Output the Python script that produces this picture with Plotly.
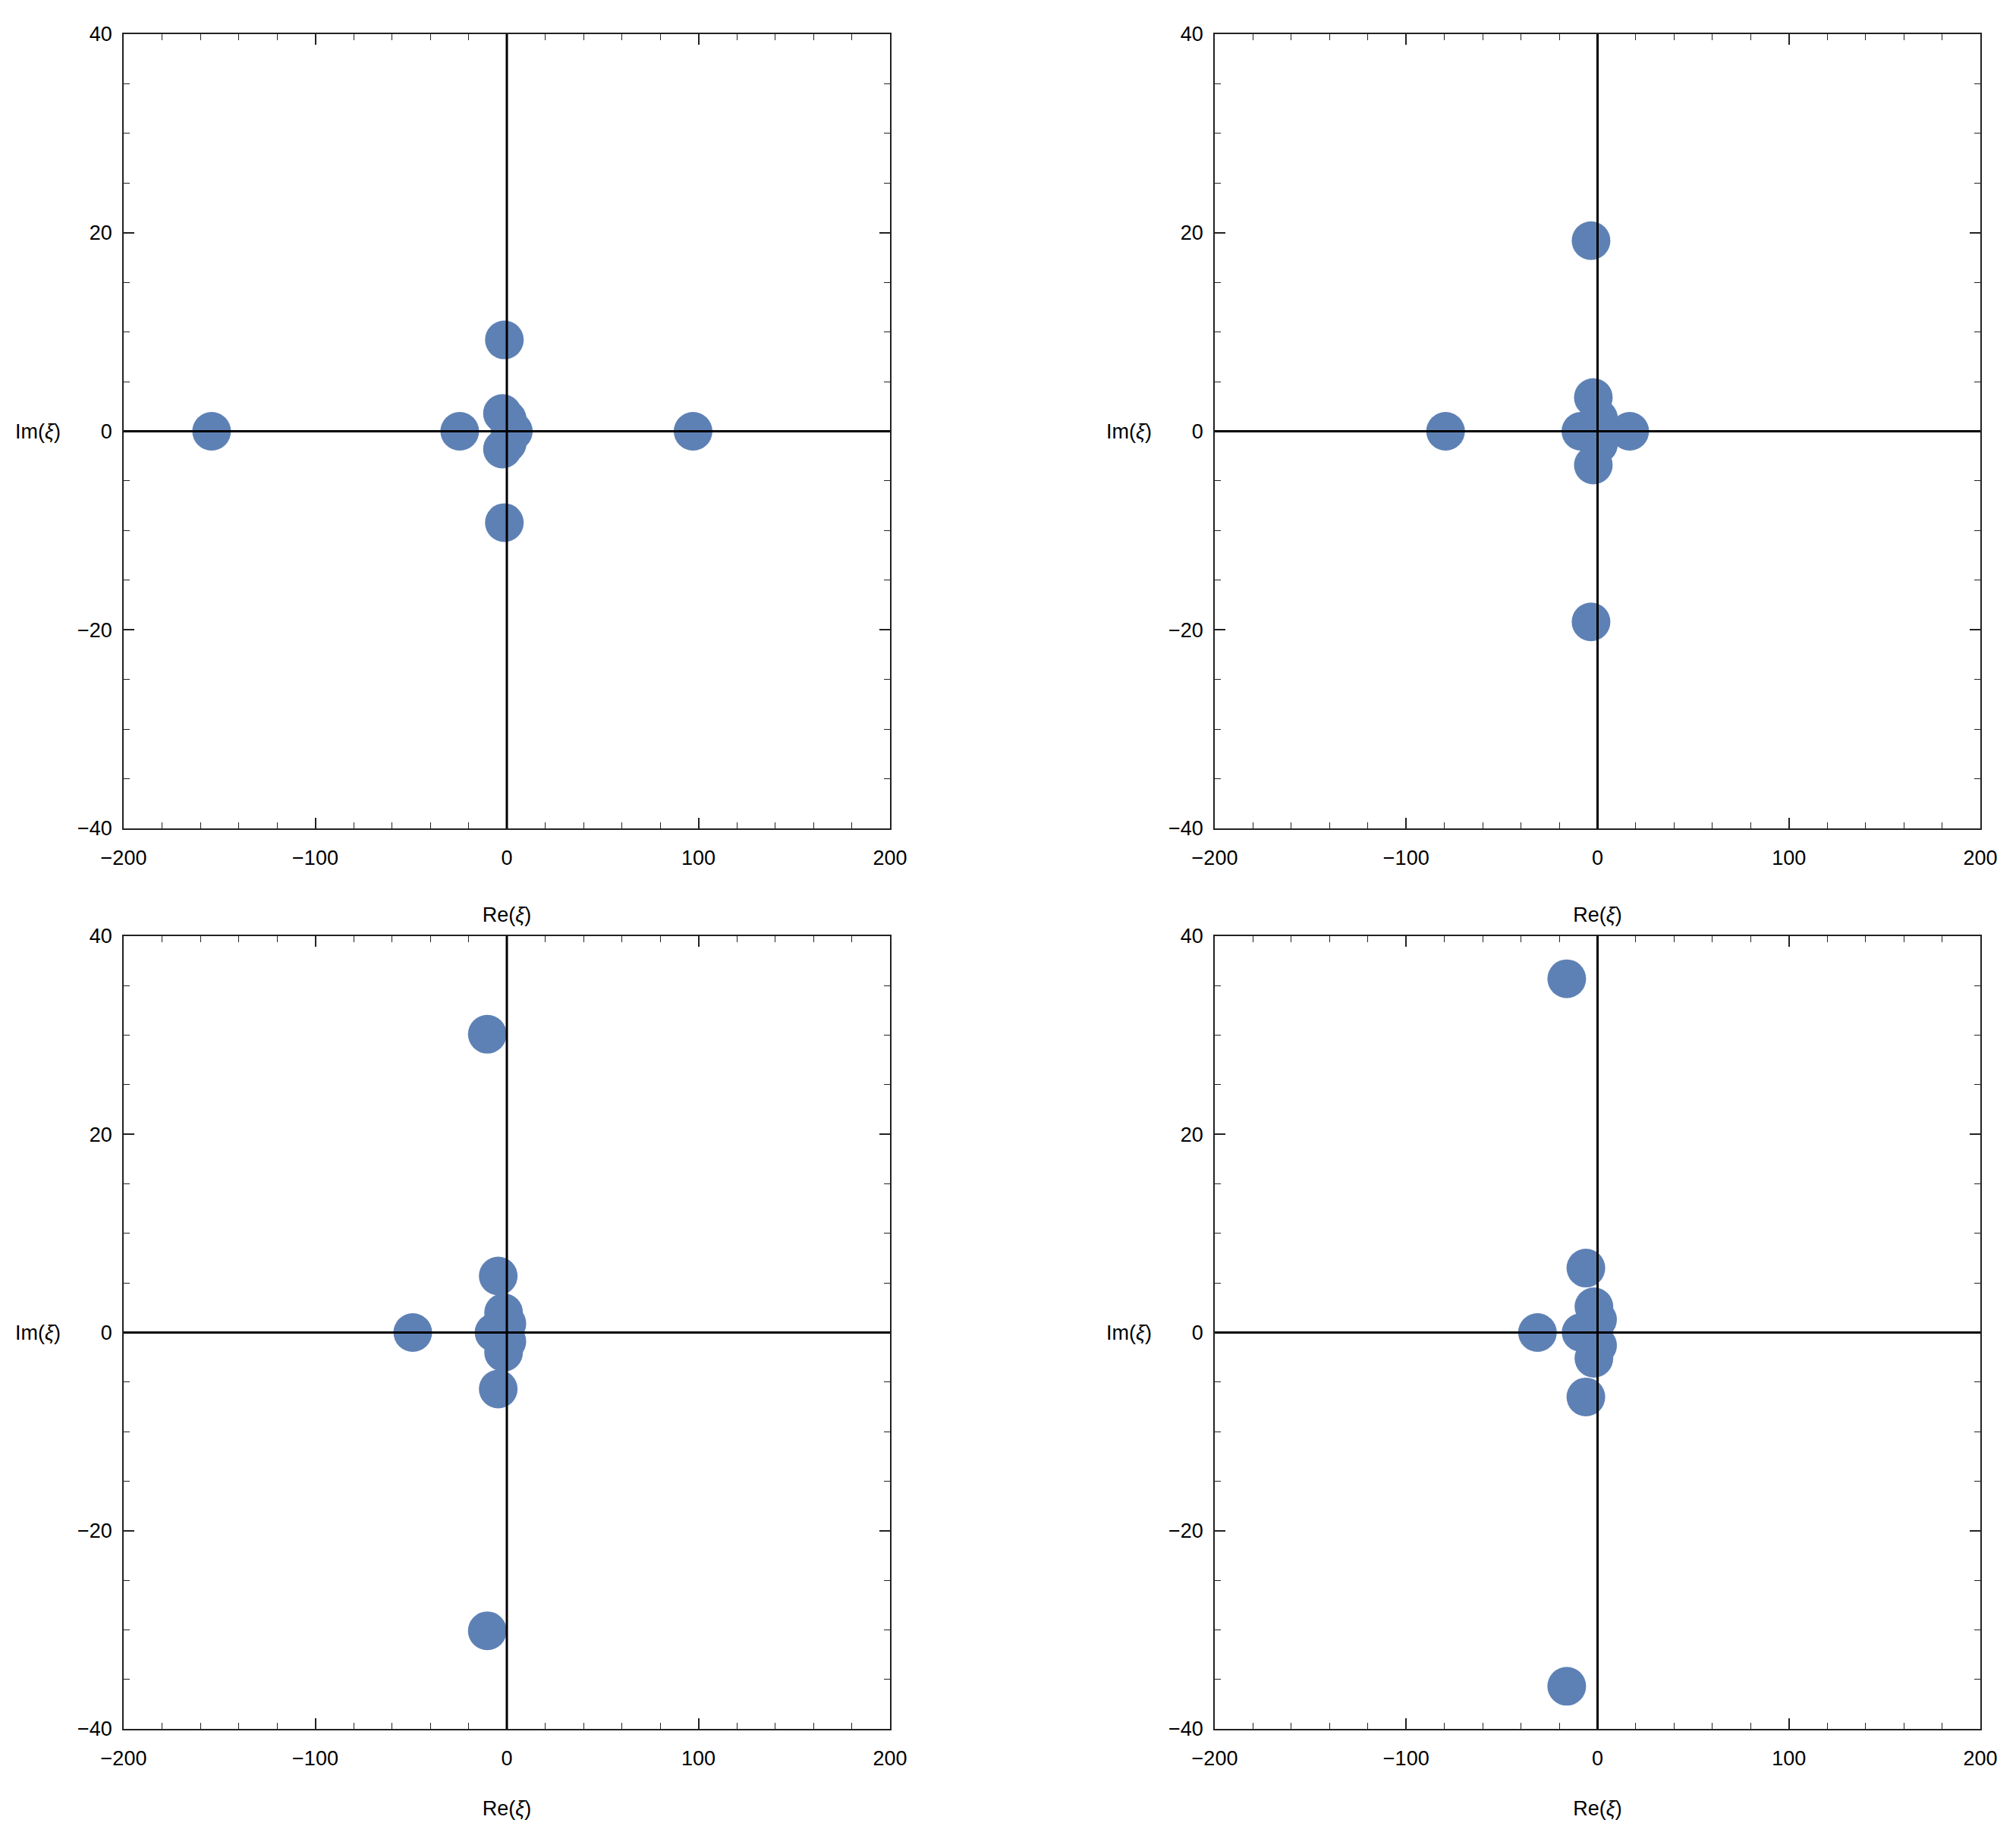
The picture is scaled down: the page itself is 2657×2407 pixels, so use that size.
import plotly.graph_objects as go

# roots, one pair of lists per panel
re1 = [-154.1, 97.2, -24.6, -1.3, -1.3, -2.3, -2.3, 0.2, 0.2, 3.4]
im1 = [0, 0, 0, 9.2, -9.2, 1.8, -1.8, 1.2, -1.2, 0]

re2 = [-79.4, 16.8, -3.4, -3.4, -8.7, -2.2, -2.2, 0.5, 0.5]
im2 = [0, 0, 19.2, -19.2, 0, 3.4, -3.4, 1.3, -1.3]

re3 = [-49.1, -10.2, -10.2, -4.5, -4.5, -1.7, -1.7, 0.0, 0.0, -6.7]
im3 = [0, 30.1, -30.1, 5.7, -5.7, 2.0, -2.0, 0.9, -0.9, 0]

re4 = [-31.4, -16.1, -16.1, -6.1, -6.1, -1.9, -1.9, 0.0, 0.0, -8.6]
im4 = [0, 35.7, -35.7, 6.5, -6.5, 2.6, -2.6, 1.3, -1.3, 0]

x_range = [-200, 200]
y_range = [-40, 40]
x_label = "Re(<i>ξ</i>)"
y_label = "Im(<i>ξ</i>)"

# the page body has an 8px margin, so the figure is a bit smaller than the window
PAD = 8
W, H = 2657 - 2 * PAD, 2407 - 2 * PAD
blue = "#5E81B5"
font = "Liberation Sans, Arial, sans-serif"

# page-pixel boxes of each frame (left, right, top, bottom)
boxes = [(163, 1173, 45, 1092), (1601, 2610, 45, 1092),
         (163, 1173, 1234, 2279), (1601, 2610, 1234, 2279)]
label_x = [50, 1488, 50, 1488]
panels = [(re1, im1), (re2, im2), (re3, im3), (re4, im4)]

fig = go.Figure()
layout = dict(width=W, height=H, margin=dict(l=0, r=0, t=0, b=0),
              paper_bgcolor="white", plot_bgcolor="white",
              showlegend=False, font=dict(family=font, size=26, color="black"))
shapes = []
annotations = []

for i, ((re, im), (l, r, t, b)) in enumerate(zip(panels, boxes)):
    n = "" if i == 0 else str(i + 1)
    l, r, t, b = l - PAD, r - PAD, t - PAD, b - PAD
    fig.add_trace(go.Scatter(x=re, y=im, mode="markers", xaxis="x" + n, yaxis="y" + n,
                             marker=dict(size=51, color=blue, line=dict(width=0))))
    common = dict(ticks="inside", showline=True, mirror="ticks", linecolor="#222",
                  linewidth=1.5, tickcolor="#222", tickwidth=1.5, ticklen=14,
                  showgrid=False, zeroline=False, automargin=False,
                  tickfont=dict(size=27, family=font, color="black"))
    layout["xaxis" + n] = dict(common, range=x_range, dtick=100, tick0=0,
                               domain=[l / W, r / W], anchor="y" + n,
                               ticklabelstandoff=14,
                               minor=dict(dtick=20, ticks="inside", ticklen=8,
                                          tickwidth=1, tickcolor="#222"),
                               title=dict(text=x_label, standoff=51,
                                          font=dict(size=27, family=font)))
    layout["yaxis" + n] = dict(common, range=y_range, dtick=20, tick0=0,
                               domain=[1 - b / H, 1 - t / H], anchor="x" + n,
                               ticklabelstandoff=8,
                               minor=dict(dtick=5, ticks="inside", ticklen=8,
                                          tickwidth=1, tickcolor="#222"))
    # axes through the origin, drawn over the points
    shapes.append(dict(type="line", xref="x" + n + " domain", x0=0, x1=1,
                       yref="y" + n, y0=0, y1=0, layer="above",
                       line=dict(color="black", width=3)))
    shapes.append(dict(type="line", xref="x" + n, x0=0, x1=0,
                       yref="y" + n + " domain", y0=0, y1=1, layer="above",
                       line=dict(color="black", width=3)))
    annotations.append(dict(text=y_label, xref="paper", x=(label_x[i] - PAD) / W,
                            yref="y" + n, y=0, showarrow=False,
                            xanchor="center", yanchor="middle",
                            font=dict(size=27, family=font, color="black")))

layout["shapes"] = shapes
layout["annotations"] = annotations
fig.update_layout(**layout)
fig.write_html("out.html")
